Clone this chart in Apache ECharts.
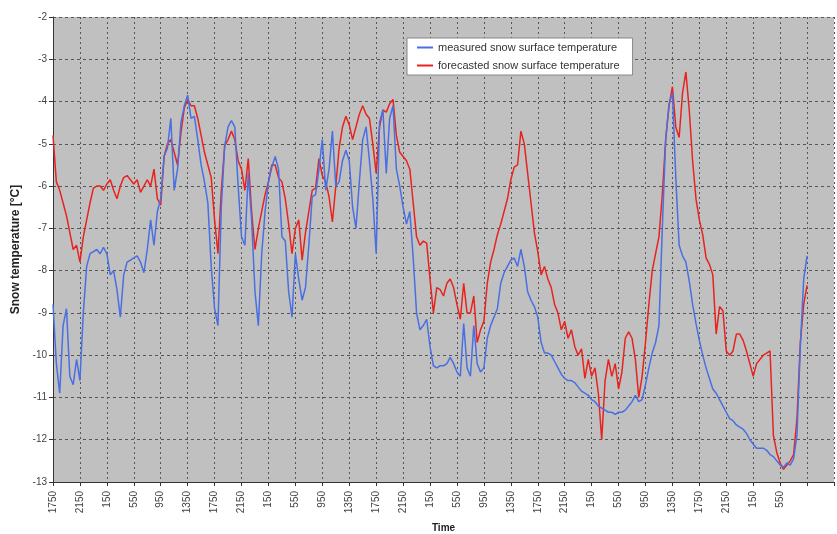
<!DOCTYPE html>
<html>
<head>
<meta charset="utf-8">
<script src="https://cdn.jsdelivr.net/npm/echarts@6/dist/echarts.min.js"></script>
<style>
html,body{margin:0;padding:0;background:#fff;}
#chart{width:837px;height:534px;}
</style>
</head>
<body>
<div id="chart"></div>
<script>
// time step between samples (hours)
var STEP = 0.5;
// tick labels every 4 hours, starting at 17:50
var tickLabels = ['1750','2150','150','550','950','1350','1750','2150','150','550','950','1350',
  '1750','2150','150','550','950','1350','1750','2150','150','550','950','1350',
  '1750','2150','150','550','',''];
var seriesNames = ['measured snow surface temperature','forecasted snow surface temperature'];

var measured = [
  -8.8,-10.2,-10.9,-9.3,-8.9,-10.5,-10.7,-10.1,-10.6,-9.0,
  -7.9,-7.6,-7.55,-7.5,-7.6,-7.45,-7.6,-8.1,-8.0,-8.45,
  -9.1,-8.1,-7.8,-7.75,-7.7,-7.65,-7.8,-8.05,-7.5,-6.8,
  -7.4,-6.6,-6.3,-5.3,-5.1,-4.4,-6.1,-5.6,-4.5,-4.1,
  -3.85,-4.4,-4.35,-4.9,-5.5,-5.9,-6.4,-7.9,-8.9,-9.3,
  -6.5,-5.05,-4.6,-4.45,-4.6,-6.0,-7.2,-7.4,-5.7,-6.8,
  -8.5,-9.3,-7.6,-6.6,-5.9,-5.55,-5.3,-5.6,-7.2,-7.3,
  -8.5,-9.1,-7.6,-8.2,-8.7,-8.4,-7.4,-6.25,-6.2,-5.6,
  -4.9,-6.1,-5.6,-4.7,-6.0,-5.9,-5.4,-5.15,-5.4,-6.5,
  -7.0,-5.9,-4.9,-4.6,-5.4,-6.3,-7.6,-4.5,-4.2,-5.7,
  -4.4,-4.1,-5.6,-6.0,-6.5,-6.9,-6.6,-7.7,-9.0,-9.4,
  -9.3,-9.15,-9.8,-10.25,-10.3,-10.25,-10.25,-10.2,-10.05,-10.2,
  -10.4,-10.5,-9.25,-10.3,-10.5,-9.3,-10.2,-10.4,-10.3,-9.6,
  -9.3,-9.1,-8.9,-8.3,-8.05,-7.9,-7.75,-7.7,-7.9,-7.5,
  -7.9,-8.5,-8.7,-8.85,-9.1,-9.7,-9.95,-9.95,-10.0,-10.15,
  -10.3,-10.45,-10.55,-10.6,-10.6,-10.65,-10.75,-10.85,-10.9,-10.95,
  -11.05,-11.1,-11.2,-11.25,-11.3,-11.35,-11.35,-11.4,-11.35,-11.35,
  -11.3,-11.2,-11.1,-10.95,-11.1,-11.05,-10.7,-10.3,-9.95,-9.7,
  -9.3,-7.0,-4.9,-4.05,-3.8,-5.8,-7.4,-7.65,-7.8,-8.25,
  -8.8,-9.25,-9.65,-10.0,-10.3,-10.55,-10.8,-10.9,-11.05,-11.2,
  -11.35,-11.5,-11.55,-11.65,-11.7,-11.75,-11.85,-12.0,-12.1,-12.2,
  -12.2,-12.2,-12.25,-12.35,-12.4,-12.5,-12.6,-12.65,-12.55,-12.6,
  -12.45,-11.9,-9.8,-8.2,-7.65
];

var forecasted = [
  -4.8,-5.9,-6.1,-6.4,-6.7,-7.1,-7.5,-7.4,-7.8,-7.2,
  -6.8,-6.4,-6.05,-6.0,-6.0,-6.1,-5.95,-5.85,-6.1,-6.3,
  -6.0,-5.8,-5.75,-5.85,-5.95,-5.85,-6.15,-6.0,-5.85,-6.0,
  -5.6,-6.3,-6.45,-5.3,-5.0,-4.9,-5.2,-5.5,-4.75,-4.15,
  -3.95,-4.1,-4.1,-4.4,-4.8,-5.2,-5.5,-5.8,-6.8,-7.6,
  -6.1,-5.05,-4.9,-4.7,-4.9,-5.4,-5.6,-6.1,-5.35,-6.6,
  -7.5,-7.0,-6.6,-6.2,-5.9,-5.5,-5.5,-5.8,-5.9,-6.3,
  -6.9,-7.6,-7.0,-6.8,-7.75,-7.1,-6.6,-6.1,-6.05,-5.35,
  -5.75,-5.9,-6.25,-6.85,-6.0,-5.1,-4.6,-4.35,-4.55,-4.9,
  -4.6,-4.3,-4.1,-4.3,-4.4,-5.0,-5.7,-4.6,-4.2,-4.25,
  -4.05,-3.95,-4.8,-5.2,-5.3,-5.4,-5.6,-6.4,-7.2,-7.4,
  -7.3,-7.35,-8.2,-9.0,-8.4,-8.45,-8.6,-8.3,-8.2,-8.4,
  -8.8,-9.15,-8.3,-9.0,-9.0,-8.6,-9.7,-9.4,-9.2,-8.3,
  -7.8,-7.5,-7.15,-6.9,-6.6,-6.3,-5.85,-5.55,-5.5,-4.7,
  -5.0,-5.7,-6.4,-7.1,-7.55,-8.1,-7.9,-8.2,-8.4,-8.8,
  -9.0,-9.4,-9.2,-9.6,-9.4,-9.8,-10.0,-9.85,-10.55,-10.1,
  -10.5,-10.3,-10.9,-12.0,-10.6,-10.1,-10.5,-10.2,-10.8,-10.4,
  -9.6,-9.45,-9.6,-10.1,-11.0,-10.5,-9.7,-8.8,-8.0,-7.6,
  -7.2,-6.2,-4.9,-4.1,-3.65,-4.6,-4.85,-3.8,-3.3,-4.2,
  -5.4,-6.3,-6.8,-7.15,-7.7,-7.85,-8.1,-9.5,-8.85,-8.95,
  -9.9,-10.0,-9.9,-9.5,-9.5,-9.65,-9.9,-10.2,-10.5,-10.2,
  -10.1,-10.0,-9.95,-9.9,-11.9,-12.3,-12.55,-12.7,-12.6,-12.5,
  -12.35,-11.5,-9.7,-8.8,-8.35
];

function toPairs(arr){ return arr.map(function(v,i){ return [i*STEP, v]; }); }

var chart = echarts.init(document.getElementById('chart'), null, {renderer:'canvas'});
var FONT = 'Liberation Sans, Arial, sans-serif';
chart.setOption({
  animation:false,
  backgroundColor:'#ffffff',
  textStyle:{fontFamily:FONT},
  grid:{left:53, top:17, right:3, bottom:52, show:true, backgroundColor:'#c0c0c0', borderWidth:0,
    containLabel:false, outerBoundsMode:'none'},
  legend:{
    orient:'vertical', left:407, top:38,
    backgroundColor:'#ffffff', borderColor:'#888888', borderWidth:1,
    padding:[4,13,4,10], itemGap:7, itemWidth:16, itemHeight:2,
    icon:'rect',
    textStyle:{fontFamily:FONT, fontSize:11, color:'#333'},
    data:seriesNames
  },
  xAxis:{
    type:'value', min:0, max:116, interval:4,
    name:'Time', nameLocation:'middle', nameGap:41,
    nameTextStyle:{fontFamily:FONT, fontSize:10, fontWeight:'bold', color:'#222'},
    axisLine:{show:true, lineStyle:{color:'#333', width:1}},
    axisTick:{show:true, length:4, lineStyle:{color:'#333'}},
    axisLabel:{rotate:90, fontSize:10, color:'#444', margin:9,
      formatter:function(v){ var k=Math.round(v/4); return tickLabels[k]||''; }},
    splitLine:{show:true, lineStyle:{color:'#555', type:[2,3], width:1}}
  },
  yAxis:{
    type:'value', min:-13, max:-2, interval:1,
    name:'Snow temperature [°C]', nameLocation:'middle', nameGap:29, nameRotate:90,
    nameTextStyle:{fontFamily:FONT, fontSize:12, fontWeight:'bold', color:'#222'},
    axisLine:{show:true, lineStyle:{color:'#333', width:1}},
    axisTick:{show:true, length:4, lineStyle:{color:'#333'}},
    axisLabel:{fontSize:10, color:'#444', margin:6},
    splitLine:{show:true, lineStyle:{color:'#555', type:[3,3], width:1}}
  },
  series:[
    {name:seriesNames[0], type:'line', data:toPairs(measured), showSymbol:false, symbol:'none',
      lineStyle:{color:'#4a6fe3', width:1.5}, itemStyle:{color:'#4a6fe3'}, z:3},
    {name:seriesNames[1], type:'line', data:toPairs(forecasted), showSymbol:false, symbol:'none',
      lineStyle:{color:'#e8231f', width:1.5}, itemStyle:{color:'#e8231f'}, z:2}
  ]
});
</script>
</body>
</html>
